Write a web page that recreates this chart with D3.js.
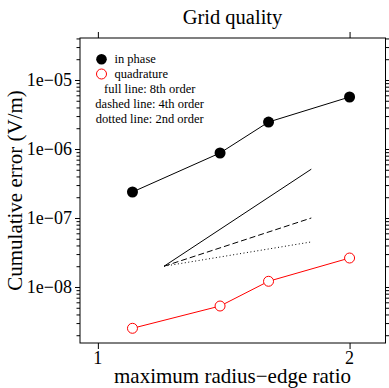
<!DOCTYPE html>
<html>
<head>
<meta charset="utf-8">
<script src="https://cdn.jsdelivr.net/npm/d3@7"></script>
<style>
  html, body { margin: 0; padding: 0; background: #fff; }
  svg { display: block; }
  text { font-family: "Liberation Serif", "Times New Roman", serif; fill: #000; }
</style>
</head>
<body>
<svg id="chart" width="389" height="388"></svg>
<script>
// Maximum radius-edge ratio of the meshes
const ratios = [1.1, 1.4, 1.6, 2.0];
// Cumulative error, in-phase component (V/m)
const inPhase = [2.38e-7, 8.75e-7, 2.46e-6, 5.67e-6];
// Cumulative error, quadrature component (V/m)
const quadrature = [2.52e-9, 5.3e-9, 1.21e-8, 2.63e-8];

// Convergence-order guide lines: shared start, separate end values
const guideX = [1.2, 1.8];
const guide8th = [2.0e-8, 5.1e-7];
const guide4th = [2.0e-8, 1.0e-7];
const guide2nd = [2.0e-8, 4.5e-8];

// Axis ticks
const xTicks = [1, 2];
const xTickLabels = ["1", "2"];
const yTicks = [1e-5, 1e-6, 1e-7, 1e-8];
const yTickLabels = ["1e\u221205", "1e\u221206", "1e\u221207", "1e\u221208"];

const legendLabels = ["in phase", "quadrature"];
const legendNotes = ["full line: 8th order", "dashed line: 4th order", "dotted line: 2nd order"];

const svg = d3.select("#chart");
const plot = { left: 80, right: 385.5, top: 38, bottom: 343 };

const x = d3.scaleLog().domain([0.952, 2.208]).range([plot.left, plot.right]);
const y = d3.scaleLog().domain([1.543e-9, 4.06e-5]).range([plot.bottom, plot.top]);

// Minor ticks 2..9 inside each decade of the y range
const yMinor = [];
for (let e = -10; e <= -4; e++) {
  for (let m = 2; m <= 9; m++) {
    const v = m * Math.pow(10, e);
    if (v >= y.domain()[0] && v <= y.domain()[1]) yMinor.push(v);
  }
}

function styleAxis(g) {
  g.select(".domain").remove();
  g.selectAll(".tick line").attr("stroke", "#000").attr("stroke-width", 1);
  g.selectAll(".tick text").remove();
}

// y axes (left and right), major and minor ticks
svg.append("g").attr("transform", `translate(${plot.left},0)`)
  .call(d3.axisLeft(y).tickValues(yTicks).tickSize(5)).call(styleAxis);
svg.append("g").attr("transform", `translate(${plot.left},0)`)
  .call(d3.axisLeft(y).tickValues(yMinor).tickSize(3.5)).call(styleAxis);
svg.append("g").attr("transform", `translate(${plot.right},0)`)
  .call(d3.axisRight(y).tickValues(yTicks).tickSize(5)).call(styleAxis);
svg.append("g").attr("transform", `translate(${plot.right},0)`)
  .call(d3.axisRight(y).tickValues(yMinor).tickSize(3.5)).call(styleAxis);

// x axes (bottom and top)
svg.append("g").attr("transform", `translate(0,${plot.bottom})`)
  .call(d3.axisBottom(x).tickValues(xTicks).tickSize(6)).call(styleAxis);
svg.append("g").attr("transform", `translate(0,${plot.top})`)
  .call(d3.axisTop(x).tickValues(xTicks).tickSize(6)).call(styleAxis);

// Tick labels
svg.append("g").selectAll("text").data(yTicks).join("text")
  .attr("x", plot.left - 8)
  .attr("y", d => y(d) + 6)
  .attr("text-anchor", "end")
  .attr("font-size", 18)
  .text((d, i) => yTickLabels[i]);

svg.append("g").selectAll("text").data(xTicks).join("text")
  .attr("x", d => x(d))
  .attr("y", 364)
  .attr("text-anchor", "middle")
  .attr("font-size", 18)
  .text((d, i) => xTickLabels[i]);

// Plot frame
svg.append("rect")
  .attr("x", plot.left).attr("y", plot.top)
  .attr("width", plot.right - plot.left).attr("height", plot.bottom - plot.top)
  .attr("fill", "none").attr("stroke", "#000").attr("stroke-width", 1);

const line = d3.line().x(d => x(d[0])).y(d => y(d[1]));

// Guide lines for convergence order
const guides = [
  { values: guide8th, dash: null },
  { values: guide4th, dash: "6,3" },
  { values: guide2nd, dash: "1,2.5" }
];
svg.append("g").selectAll("path").data(guides).join("path")
  .attr("d", g => line(d3.zip(guideX, g.values)))
  .attr("fill", "none")
  .attr("stroke", "#000")
  .attr("stroke-width", 1)
  .attr("stroke-dasharray", g => g.dash);

// In-phase series
const inPhasePts = d3.zip(ratios, inPhase);
svg.append("path").attr("d", line(inPhasePts))
  .attr("fill", "none").attr("stroke", "#000").attr("stroke-width", 1);
svg.append("g").selectAll("circle").data(inPhasePts).join("circle")
  .attr("cx", d => x(d[0])).attr("cy", d => y(d[1])).attr("r", 5.5)
  .attr("fill", "#000");

// Quadrature series
const quadPts = d3.zip(ratios, quadrature);
svg.append("path").attr("d", line(quadPts))
  .attr("fill", "none").attr("stroke", "#ff0000").attr("stroke-width", 1);
svg.append("g").selectAll("circle").data(quadPts).join("circle")
  .attr("cx", d => x(d[0])).attr("cy", d => y(d[1])).attr("r", 5)
  .attr("fill", "#fff").attr("stroke", "#ff0000").attr("stroke-width", 1);

// Legend
const legend = svg.append("g");
legend.append("circle").attr("cx", 101.5).attr("cy", 59.3).attr("r", 5.3).attr("fill", "#000");
legend.append("circle").attr("cx", 101.5).attr("cy", 74).attr("r", 5)
  .attr("fill", "none").attr("stroke", "#ff0000").attr("stroke-width", 1);
legend.selectAll("text.lab").data(legendLabels).join("text").attr("class", "lab")
  .attr("x", 114.5).attr("y", (d, i) => 63.4 + i * 14.6)
  .attr("font-size", 12.5).text(d => d);
legend.selectAll("text.note").data(legendNotes).join("text").attr("class", "note")
  .attr("x", 149.7).attr("y", (d, i) => 93.3 + i * 15)
  .attr("text-anchor", "middle")
  .attr("font-size", 12.5).text(d => d);

// Titles
svg.append("text").attr("x", 232.5).attr("y", 24)
  .attr("text-anchor", "middle").attr("font-size", 20.5).text("Grid quality");
svg.append("text").attr("x", 232.5).attr("y", 383)
  .attr("text-anchor", "middle").attr("font-size", 21).text("maximum radius\u2212edge ratio");
svg.append("text")
  .attr("transform", `translate(22,${(plot.top + plot.bottom) / 2}) rotate(-90)`)
  .attr("text-anchor", "middle").attr("font-size", 21).text("Cumulative error (V/m)");
</script>
</body>
</html>
